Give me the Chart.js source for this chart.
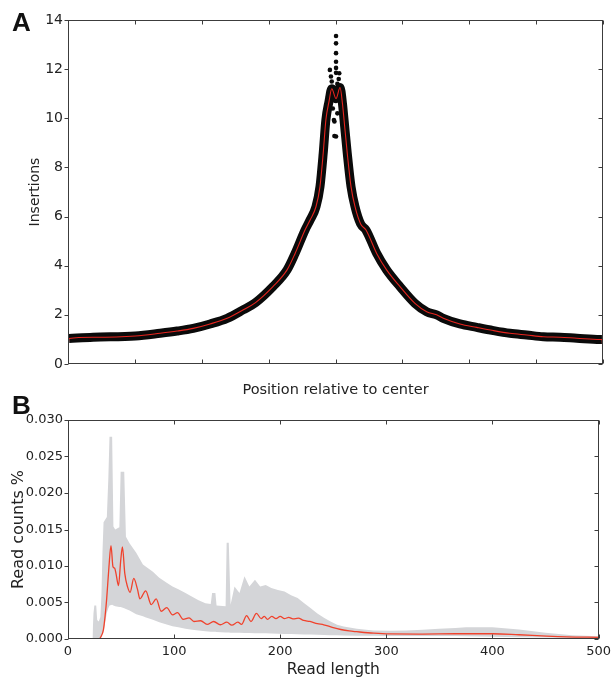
<!DOCTYPE html>
<html>
<head>
<meta charset="utf-8">
<script src="https://cdn.jsdelivr.net/npm/chart.js@4.4.1/dist/chart.umd.min.js"></script>
<style>
  html, body { margin: 0; padding: 0; background: #fff; }
  #wrap { position: relative; width: 616px; height: 678px; overflow: hidden; }
  canvas { position: absolute; left: 0; }
  #cA { top: 0; }
  #cB { top: 400px; }
  .panel { position: absolute; font-family: "Liberation Sans", Arial, sans-serif; font-weight: bold; font-size: 26px; line-height: 26px; color: #111; }
</style>
</head>
<body>
<div id="wrap">
  <canvas id="cA" width="616" height="400"></canvas>
  <canvas id="cB" width="616" height="278"></canvas>
  <div class="panel" style="left:12px; top:9px;">A</div>
  <div class="panel" style="left:12px; top:392px;">B</div>
</div>
<script>
// ---------- Panel A : insertions around center ----------
const insertionTicksY = [0, 2, 4, 6, 8, 10, 12, 14];
const positionTicks = [-1000, -750, -500, -250, 0, 250, 500, 750, 1000];
// smoothed insertion profile (red line); the dot cloud follows the same centre
const smoothPos = [-1000, -996, -906, -748, -656, -592, -532, -469, -405, -346, -299, -234, -181, -151, -114, -95, -73, -58, -46, -36, -24, -14, 2, 17, 26, 32, 44, 58, 73, 94, 114, 154, 191, 241, 297, 341, 378, 403, 465, 528, 590, 652, 715, 777, 839, 902, 989, 996, 1000];
const smoothVal = [0.72, 1.04, 1.09, 1.14, 1.25, 1.34, 1.45, 1.63, 1.86, 2.2, 2.5, 3.15, 3.83, 4.5, 5.45, 5.86, 6.4, 7.22, 8.57, 9.93, 10.7, 11.2, 10.8, 11.25, 10.6, 9.93, 8.57, 7.22, 6.4, 5.7, 5.45, 4.5, 3.83, 3.15, 2.47, 2.13, 2.0, 1.86, 1.63, 1.49, 1.36, 1.25, 1.18, 1.11, 1.09, 1.05, 1.0, 1.0, 0.6];
// individual raw dots standing out around the peak
const peakDotPos = [2, 2, 2, 2, 2, 2, -21, 14, -14, 7, -27, 23, -10, 7, -6, 2, -4, -4, 12, -17, 19];
const peakDotVal = [13.35, 13.05, 12.65, 12.3, 12.05, 11.85, 11.97, 11.83, 11.5, 11.4, 10.9, 10.8, 10.4, 10.2, 9.93, 9.26, 9.87, 9.28, 11.6, 11.7, 11.2];

// ---------- Panel B : read length distribution ----------
const lengthTicks = [0, 100, 200, 300, 400, 500];
const countTicks = [0, 0.005, 0.010, 0.015, 0.020, 0.025, 0.030];
// grey range band (values in units of 1e-3)
const bandLen = [23, 24, 24.8, 26.6, 27.5, 29, 30.5, 31.5, 32.5, 33.5, 36.6, 38, 39.1, 41.6, 42.8, 44.5, 48.4, 49.6, 53, 54.6, 58, 64.3, 70.6, 73.5, 80, 86, 93, 98.5, 104, 110.7, 117, 123, 129.5, 134.5, 135.8, 138.9, 140, 148.5, 149.5, 151.5, 153.2, 156.9, 161.6, 166.3, 170.9, 176.2, 181.1, 186.3, 191.6, 197.8, 204, 210.2, 216.4, 222.6, 228.8, 235, 241.2, 247.4, 253.6, 259.8, 272.2, 287.7, 303.2, 318.7, 334.2, 349.6, 365, 375, 400, 425, 450, 475, 500];
const bandHigh = [0, 3.5, 4.6, 4.6, 2.6, 2.4, 3.0, 6.0, 12.0, 16.0, 16.7, 22.0, 27.7, 27.7, 15.4, 15.0, 15.3, 22.9, 22.9, 14.0, 13.1, 11.8, 10.2, 9.9, 9.2, 8.4, 7.7, 7.2, 6.8, 6.3, 5.8, 5.3, 4.9, 4.8, 6.3, 6.3, 4.6, 4.5, 13.2, 13.2, 4.7, 7.2, 6.3, 8.6, 7.2, 8.1, 7.2, 7.4, 7.0, 6.7, 6.5, 6.0, 5.6, 4.9, 4.2, 3.5, 2.9, 2.4, 1.95, 1.7, 1.4, 1.17, 1.13, 1.17, 1.27, 1.4, 1.5, 1.6, 1.6, 1.3, 0.85, 0.5, 0.37];
const bandLow = [0, 0, 0, 0, 0, 0, 0, 0.2, 0.6, 1.0, 3.6, 4.2, 4.6, 4.7, 4.6, 4.5, 4.4, 4.4, 4.2, 4.1, 3.9, 3.4, 3.1, 2.95, 2.65, 2.3, 2.0, 1.75, 1.6, 1.42, 1.27, 1.15, 1.05, 1.0, 1.0, 0.98, 0.97, 0.9, 0.9, 0.88, 0.87, 0.85, 0.84, 0.83, 0.82, 0.8, 0.8, 0.78, 0.75, 0.72, 0.7, 0.68, 0.65, 0.62, 0.6, 0.57, 0.55, 0.52, 0.5, 0.48, 0.45, 0.43, 0.41, 0.4, 0.4, 0.4, 0.4, 0.37, 0.3, 0.25, 0.2, 0.15, 0.1];
// mean profile (red line), units of 1e-3
const meanLen = [29.5, 31, 33.4, 35, 36.5, 38.6, 40.5, 42.4, 44, 45.2, 47.6, 49.7, 51.3, 53.5, 56, 58.5, 62, 65.5, 67.8, 73.2, 78.5, 83.1, 87.8, 93, 98.6, 103.2, 108.5, 114.1, 118.7, 125, 131.1, 137.3, 143.5, 149.7, 154.4, 160, 163.6, 168.3, 172.4, 177.6, 182, 185, 188, 192, 196, 200, 204, 208, 212, 217, 222, 228, 235, 241, 249, 257, 265, 272, 288, 303, 334, 365, 400, 425, 451, 470, 500];
const meanVal = [0, 0.3, 1.3, 3.2, 5.6, 9.9, 12.8, 9.9, 9.7, 9.0, 7.3, 10.8, 12.6, 9.0, 7.2, 6.4, 8.3, 6.8, 5.5, 6.6, 4.7, 5.5, 3.8, 4.3, 3.3, 3.6, 2.7, 2.9, 2.4, 2.5, 2.0, 2.4, 1.95, 2.3, 1.9, 2.3, 2.0, 3.2, 2.4, 3.5, 2.8, 3.1, 2.7, 3.1, 2.8, 3.1, 2.8, 2.95, 2.75, 2.85, 2.55, 2.4, 2.1, 1.95, 1.6, 1.3, 1.1, 1.0, 0.8, 0.7, 0.68, 0.72, 0.72, 0.58, 0.4, 0.3, 0.23];

// ---------- helpers ----------
const FONT = '"DejaVu Sans", "Liberation Sans", sans-serif';
const TXT = '#222';
const FRAME = '#3c3c3c';
const pts = (xs, ys, k = 1) => xs.map((x, i) => ({ x: x, y: ys[i] * k }));

const frameTicks = {
  id: 'frameTicks',
  afterDatasetsDraw(chart) {
    const { ctx, chartArea: a, scales: { x, y } } = chart;
    const L = 4;
    ctx.save();
    ctx.strokeStyle = FRAME;
    ctx.lineWidth = 1;
    const l = Math.round(a.left) + 0.5, r = Math.round(a.right) - 0.5;
    const t = Math.round(a.top) + 0.5, b = Math.round(a.bottom) - 0.5;
    ctx.strokeRect(l, t, r - l, b - t);
    ctx.beginPath();
    x.ticks.forEach(tk => {
      const px = Math.round(x.getPixelForValue(tk.value)) + 0.5;
      ctx.moveTo(px, b); ctx.lineTo(px, b - L);
      ctx.moveTo(px, t); ctx.lineTo(px, t + L);
    });
    y.ticks.forEach(tk => {
      const py = Math.round(y.getPixelForValue(tk.value)) + 0.5;
      ctx.moveTo(l - L, py); ctx.lineTo(l, py);
      ctx.moveTo(r, py); ctx.lineTo(r - L, py);
    });
    ctx.stroke();
    ctx.restore();
  }
};

Chart.defaults.font.family = FONT;
Chart.defaults.color = TXT;

// ---------- Chart A ----------
new Chart(document.getElementById('cA'), {
  type: 'line',
  data: {
    datasets: [
      { // dot cloud
        data: pts(smoothPos.slice(1, -1), smoothVal.slice(1, -1)),
        order: 3,
        borderColor: '#0a0a0a', borderWidth: 9, pointRadius: 0,
        cubicInterpolationMode: 'monotone', clip: 0, borderCapStyle: 'butt', borderJoinStyle: 'round'
      },
      { // outlying dots near peak
        data: pts(peakDotPos, peakDotVal),
        order: 2,
        showLine: false, pointRadius: 2.3, pointBackgroundColor: '#0a0a0a', pointBorderWidth: 0, clip: 0
      },
      { // smoothed red line
        data: pts(smoothPos, smoothVal),
        order: 1,
        borderColor: 'rgb(230,36,30)', borderWidth: 1.1, pointRadius: 0,
        cubicInterpolationMode: 'monotone', clip: 0
      }
    ]
  },
  options: {
    responsive: false, animation: false, devicePixelRatio: 1,
    layout: { padding: { left: 0, top: 20, right: 13, bottom: 0 } },
    plugins: { legend: { display: false }, tooltip: { enabled: false } },
    scales: {
      x: {
        type: 'linear', min: positionTicks[0], max: positionTicks[positionTicks.length - 1],
        afterBuildTicks: s => { s.ticks = positionTicks.map(v => ({ value: v })); },
        afterFit: s => { s.height = 36; },
        grid: { display: false }, border: { display: false },
        ticks: { display: false },
        title: { display: true, text: 'Position relative to center', font: { size: 14.5, family: FONT }, color: TXT, padding: { top: 0, bottom: 1 } }
      },
      y: {
        type: 'linear', min: 0, max: 14,
        afterBuildTicks: s => { s.ticks = insertionTicksY.map(v => ({ value: v })); },
        afterFit: s => { s.width = 68; },
        grid: { display: false, drawTicks: false }, border: { display: false },
        ticks: { padding: 5, font: { size: 14, family: FONT }, color: TXT, callback: v => String(v) },
        title: { display: true, text: 'Insertions', font: { size: 14, family: FONT }, color: TXT, padding: { top: 27, bottom: 0 } }
      }
    }
  },
  plugins: [frameTicks]
});

// ---------- Chart B ----------
new Chart(document.getElementById('cB'), {
  type: 'line',
  data: {
    datasets: [
      { // lower edge of range
        data: pts(bandLen, bandLow, 1e-3),
        order: 3,
        borderWidth: 0, pointRadius: 0, fill: false, tension: 0, clip: 0
      },
      { // upper edge of range, filled down to lower edge
        data: pts(bandLen, bandHigh, 1e-3),
        order: 2,
        borderWidth: 0, pointRadius: 0, tension: 0, clip: 0,
        fill: '-1', backgroundColor: 'rgb(212,213,216)'
      },
      { // mean
        data: pts(meanLen, meanVal, 1e-3),
        order: 1,
        borderColor: 'rgb(240,66,44)', borderWidth: 1.3, pointRadius: 0,
        cubicInterpolationMode: 'monotone', fill: false, clip: 0
      }
    ]
  },
  options: {
    responsive: false, animation: false, devicePixelRatio: 1,
    layout: { padding: { left: 0, top: 20, right: 13, bottom: 0 } },
    plugins: { legend: { display: false }, tooltip: { enabled: false }, filler: { propagate: false } },
    scales: {
      x: {
        type: 'linear', min: 0, max: 500,
        afterBuildTicks: s => { s.ticks = lengthTicks.map(v => ({ value: v })); },
        afterFit: s => { s.height = 39; },
        grid: { display: false, drawTicks: false }, border: { display: false },
        ticks: { padding: 5, maxRotation: 0, autoSkip: false, font: { size: 13, family: FONT }, color: TXT, callback: v => String(v) },
        title: { display: true, text: 'Read length', font: { size: 15.5, family: FONT, lineHeight: 1 }, color: TXT, padding: { top: 0, bottom: 0 } }
      },
      y: {
        type: 'linear', min: 0, max: 0.03,
        afterBuildTicks: s => { s.ticks = countTicks.map(v => ({ value: v })); },
        afterFit: s => { s.width = 68; },
        grid: { display: false, drawTicks: false }, border: { display: false },
        ticks: { padding: 5, font: { size: 13, family: FONT }, color: TXT, callback: v => Number(v).toFixed(3) },
        title: { display: true, text: 'Read counts %', font: { size: 16, family: FONT }, color: TXT, padding: { top: 9, bottom: 0 } }
      }
    }
  },
  plugins: [frameTicks]
});
</script>
</body>
</html>
